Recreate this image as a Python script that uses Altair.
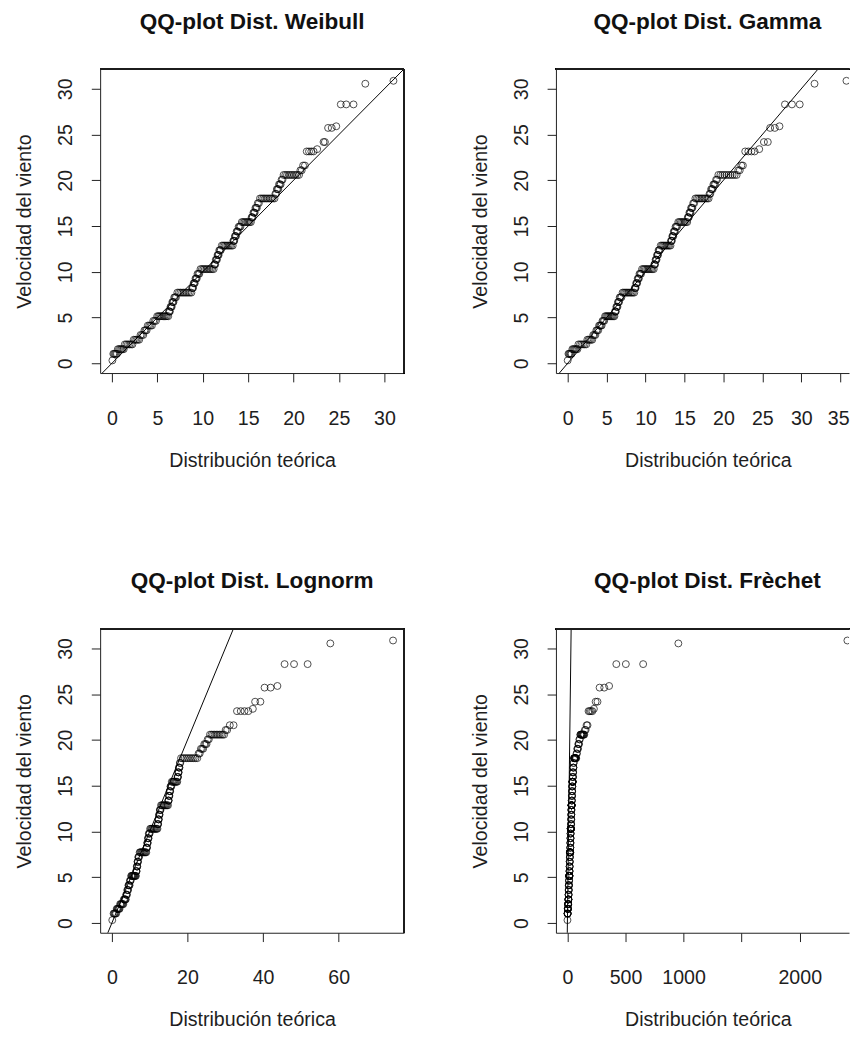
import altair as alt
import pandas as pd

# Observed wind speeds (sorted sample, m/s)
y_obs = [
    0.31,
    1.03, 1.03, 1.03, 1.03, 1.03,
    1.54, 1.54, 1.54, 1.54, 1.54, 1.54,
    2.06, 2.06, 2.06, 2.06, 2.06, 2.06,
    2.57, 2.57, 2.57, 2.57, 2.57,
    3.09, 3.09, 3.09,
    3.60, 3.60, 3.60,
    4.12, 4.12, 4.12, 4.12,
    4.63, 4.63, 4.63,
    5.14, 5.14, 5.14, 5.14, 5.14, 5.14, 5.14, 5.14, 5.14, 5.14,
    5.66, 5.66, 5.66, 6.17, 6.17, 6.17, 6.69, 6.69, 6.69, 7.20, 7.20, 7.20,
    7.72, 7.72, 7.72, 7.72, 7.72, 7.72, 7.72, 7.72, 7.72, 7.72,
    8.23, 8.23, 8.23, 8.75, 8.75, 8.75, 9.26, 9.26, 9.26, 9.77, 9.77, 9.77,
    10.29, 10.29, 10.29, 10.29, 10.29, 10.29, 10.29, 10.29, 10.29, 10.29,
    10.80, 10.80, 10.80, 11.32, 11.32, 11.32, 11.83, 11.83, 11.83, 12.35, 12.35, 12.35,
    12.86, 12.86, 12.86, 12.86, 12.86, 12.86, 12.86, 12.86, 12.86,
    13.38, 13.38, 13.38, 13.89, 13.89, 13.89, 14.40, 14.40, 14.40, 14.92, 14.92, 14.92,
    15.43, 15.43, 15.43, 15.43, 15.43, 15.43, 15.43, 15.43,
    15.95, 15.95, 15.95, 16.46, 16.46, 16.46, 16.98, 16.98, 16.98, 17.49, 17.49,
    18.01, 18.01, 18.01, 18.01, 18.01, 18.01, 18.01, 18.01, 18.01, 18.01,
    18.52, 18.52, 19.03, 19.03, 19.03, 19.55, 19.55, 19.55, 20.06, 20.06,
    20.58, 20.58, 20.58, 20.58, 20.58, 20.58, 20.58, 20.58, 20.58, 20.58,
    21.09, 21.09, 21.61, 21.61,
    23.15, 23.15, 23.15, 23.15, 23.40,
    24.18, 24.18,
    25.72, 25.72, 25.90,
    28.29, 28.29, 28.29,
    30.55, 30.87,
]

# Theoretical quantiles
x_weibull = [
    0.05,
    0.15, 0.25, 0.35, 0.45, 0.55,
    0.65, 0.78, 0.91, 1.04, 1.17, 1.3,
    1.42, 1.59, 1.76, 1.93, 2.1, 2.25,
    2.4, 2.55, 2.7, 2.85, 3.0,
    3.15, 3.3, 3.45,
    3.58, 3.7, 3.82,
    3.95, 4.1, 4.25, 4.4,
    4.55, 4.7, 4.85,
    4.98, 5.12, 5.25, 5.39, 5.52, 5.66, 5.79, 5.93, 6.06, 6.2,
    6.28, 6.33, 6.38, 6.45, 6.52, 6.58, 6.65, 6.72, 6.78, 6.86, 6.95, 7.05,
    7.2, 7.37, 7.54, 7.72, 7.89, 8.06, 8.23, 8.4, 8.58, 8.75,
    8.83, 8.88, 8.93, 9.0, 9.06, 9.12, 9.2, 9.27, 9.34, 9.42, 9.52, 9.62,
    9.75, 9.91, 10.07, 10.23, 10.39, 10.56, 10.72, 10.88, 11.04, 11.2,
    11.27, 11.32, 11.37, 11.44, 11.5, 11.56, 11.63, 11.69, 11.75, 11.82, 11.9, 11.98,
    12.1, 12.25, 12.4, 12.55, 12.7, 12.85, 13.0, 13.15, 13.3,
    13.37, 13.42, 13.47, 13.54, 13.6, 13.66, 13.73, 13.8, 13.87, 13.95, 14.05, 14.15,
    14.3, 14.44, 14.59, 14.73, 14.87, 15.01, 15.16, 15.3,
    15.38, 15.44, 15.5, 15.58, 15.65, 15.72, 15.8, 15.88, 15.96, 16.06, 16.18,
    16.3, 16.48, 16.66, 16.83, 17.01, 17.19, 17.37, 17.54, 17.72, 17.9,
    18.0, 18.08, 18.16, 18.24, 18.32, 18.4, 18.49, 18.58, 18.68, 18.78,
    18.9, 19.09, 19.28, 19.47, 19.66, 19.84, 20.03, 20.22, 20.41, 20.6,
    20.75, 20.9, 21.05, 21.25,
    21.45, 21.7, 21.95, 22.2, 22.6,
    23.3, 23.45,
    23.8, 24.2, 24.7,
    25.2, 25.8, 26.6,
    27.9, 31.0,
]

x_gamma = [
    0.0,
    0.1, 0.2, 0.3, 0.4, 0.5,
    0.6, 0.73, 0.86, 0.99, 1.12, 1.25,
    1.38, 1.58, 1.78, 1.98, 2.18, 2.38,
    2.52, 2.68, 2.84, 3.0, 3.15,
    3.28, 3.42, 3.56,
    3.68, 3.8, 3.92,
    4.03, 4.14, 4.25, 4.36,
    4.47, 4.58, 4.69,
    4.8, 4.93, 5.07, 5.2, 5.33, 5.47, 5.6, 5.73, 5.87, 6.0,
    6.08, 6.13, 6.18, 6.25, 6.32, 6.39, 6.46, 6.53, 6.6, 6.68, 6.78, 6.9,
    7.05, 7.22, 7.38, 7.55, 7.72, 7.88, 8.05, 8.22, 8.38, 8.55,
    8.62, 8.67, 8.72, 8.8, 8.86, 8.92, 9.0, 9.07, 9.14, 9.22, 9.32, 9.42,
    9.55, 9.72, 9.88, 10.05, 10.22, 10.38, 10.55, 10.72, 10.88, 11.05,
    11.12, 11.17, 11.22, 11.29, 11.35, 11.41, 11.48, 11.54, 11.6, 11.67, 11.75, 11.83,
    11.95, 12.11, 12.26, 12.42, 12.58, 12.73, 12.89, 13.04, 13.2,
    13.27, 13.32, 13.37, 13.44, 13.5, 13.56, 13.63, 13.7, 13.77, 13.85, 13.95, 14.05,
    14.2, 14.36, 14.53, 14.69, 14.86, 15.02, 15.19, 15.35,
    15.43, 15.49, 15.55, 15.63, 15.7, 15.77, 15.85, 15.93, 16.01, 16.12, 16.24,
    16.4, 16.59, 16.78, 16.97, 17.16, 17.34, 17.53, 17.72, 17.91, 18.1,
    18.22, 18.32, 18.42, 18.52, 18.62, 18.72, 18.83, 18.94, 19.06, 19.18,
    19.35, 19.61, 19.87, 20.13, 20.39, 20.66, 20.92, 21.18, 21.44, 21.7,
    21.9, 22.1, 22.3, 22.5,
    22.8, 23.2, 23.6, 24.0, 24.6,
    25.2, 25.7,
    26.0, 26.6, 27.2,
    27.9, 28.8, 29.8,
    31.7, 35.8,
]

x_lognorm = [
    0.1,
    0.45, 0.62, 0.79, 0.96, 1.13,
    1.28, 1.43, 1.58, 1.73, 1.88, 2.03,
    2.18, 2.35, 2.52, 2.69, 2.86, 3.03,
    3.16, 3.29, 3.42, 3.55, 3.68,
    3.78, 3.88, 3.98,
    4.08, 4.18, 4.28,
    4.38, 4.48, 4.58, 4.68,
    4.78, 4.88, 4.98,
    5.1, 5.24, 5.38, 5.52, 5.66, 5.79, 5.93, 6.07, 6.21, 6.35,
    6.43, 6.48, 6.53, 6.6, 6.66, 6.72, 6.79, 6.85, 6.91, 6.99, 7.08, 7.18,
    7.35, 7.54, 7.74, 7.93, 8.13, 8.32, 8.52, 8.71, 8.91, 9.1,
    9.18, 9.23, 9.28, 9.36, 9.42, 9.48, 9.56, 9.63, 9.7, 9.78, 9.88, 9.98,
    10.12, 10.33, 10.55, 10.76, 10.98, 11.19, 11.41, 11.62, 11.84, 12.05,
    12.13, 12.18, 12.23, 12.3, 12.36, 12.42, 12.49, 12.55, 12.61, 12.68, 12.77, 12.86,
    13.0, 13.23, 13.46, 13.69, 13.93, 14.16, 14.39, 14.62, 14.85,
    14.93, 14.98, 15.03, 15.1, 15.16, 15.22, 15.29, 15.36, 15.43, 15.51, 15.61, 15.71,
    15.85, 16.06, 16.26, 16.47, 16.68, 16.88, 17.09, 17.3,
    17.38, 17.43, 17.48, 17.55, 17.61, 17.67, 17.74, 17.81, 17.88, 17.98, 18.1,
    18.3, 18.78, 19.26, 19.73, 20.21, 20.69, 21.17, 21.64, 22.12, 22.6,
    22.95, 23.25, 23.55, 23.85, 24.15, 24.45, 24.75, 25.05, 25.35, 25.65,
    25.95, 26.37, 26.78, 27.2, 27.62, 28.03, 28.45, 28.87, 29.28, 29.7,
    30.1, 30.5, 31.2, 32.2,
    33.1, 34.1, 35.1, 36.1, 37.3,
    37.9, 39.3,
    40.4, 42.0, 43.8,
    45.7, 48.2, 51.8,
    57.8, 74.4,
]

x_frechet = [
    0.5,
    1, 1.4, 1.8, 2.2, 2.6,
    3, 3.4, 3.8, 4.2, 4.6, 5,
    5.4, 5.8, 6.2, 6.6, 7, 7.4,
    7.8, 8.2, 8.6, 9, 9.4,
    9.8, 10.2, 10.6,
    11, 11.4, 11.8,
    12.2, 12.6, 13, 13.4,
    13.8, 14.2, 14.6,
    15, 15.3, 15.6, 15.9, 16.2, 16.5, 16.8, 17.1, 17.4, 17.7,
    18, 18.3, 18.6, 18.9, 19.2, 19.5, 19.8, 20.1, 20.4, 20.7, 21, 21.3,
    21.6, 21.9, 22.2, 22.5, 22.8, 23.1, 23.4, 23.7, 24, 24.3,
    24.6, 24.9, 25.2, 25.5, 25.8, 26.1, 26.4, 26.7, 27, 27.3, 27.6, 27.9,
    28.2, 28.5, 28.8, 29.1, 29.4, 29.7, 30, 30.3, 30.6, 30.9,
    31.2, 31.5, 31.8, 32.1, 32.4, 32.7, 33, 33.3, 33.6, 33.9, 34.2, 34.5,
    34.8, 35.1, 35.4, 35.7, 36, 36.3, 36.6, 36.9, 37.2,
    37.6, 38, 38.4, 38.8, 39.2, 39.6, 40, 40.4, 40.8, 41.2, 41.6, 42,
    42.5, 43, 43.5, 44, 44.5, 45, 45.5, 46,
    46.5, 47, 47.5, 48, 48.5, 49, 50, 51, 52, 53, 54,
    56, 58, 60, 62, 64, 66, 68, 70, 73, 76,
    79, 82, 85, 88, 91, 94, 97, 100, 103, 107,
    111, 114, 118, 121, 125, 129, 133, 137, 141, 145,
    150, 157, 165, 173,
    182, 192, 203, 215, 228,
    243, 259,
    277, 317, 359,
    421, 503, 652,
    955, 2410,
]

titles = ["QQ-plot Dist. Weibull", "QQ-plot Dist. Gamma",
          "QQ-plot Dist. Lognorm", "QQ-plot Dist. Frèchet"]
y_ticks = [0, 5, 10, 15, 20, 25, 30]
ticks_weibull = [0, 5, 10, 15, 20, 25, 30]
ticks_gamma = [0, 5, 10, 15, 20, 25, 30, 35]
ticks_lognorm = [0, 20, 40, 60]
ticks_frechet = [0, 500, 1000, 1500, 2000]
ref_line = [-10, 40]   # y = x reference line

for arr in (x_weibull, x_gamma, x_lognorm, x_frechet):
    assert len(arr) == len(y_obs), len(arr)

FONT = "Liberation Sans"
INK = "#1e1e1e"
H = 310
Y_DOMAIN = [-1.07, 32.14]


def panel(title, xs, xdomain, xticks, width, full_box, title_dx=0,
          label_align=None, label_offset=None, label_expr=None):
    pts = pd.DataFrame({"teo": xs, "obs": y_obs})
    line = pd.DataFrame({"teo": ref_line, "obs": ref_line})

    ax_kw = dict(
        values=xticks, format="d", title="Distribución teórica",
        titleFont=FONT, titleFontSize=20, titleFontWeight="normal", titleColor=INK,
        titleX=155, titleY=95, titleBaseline="alphabetic", titleAlign="center",
        labelFont=FONT, labelFontSize=20, labelColor=INK, labelBaseline="alphabetic",
        labelPadding=43, labelFlush=False, labelOverlap=False,
        tickSize=9, tickColor=INK, tickWidth=1, domainColor=INK, domainWidth=1, grid=False,
    )
    if label_align is not None:
        ax_kw["labelAlign"] = label_align
    if label_offset is not None:
        ax_kw["labelOffset"] = label_offset
    if label_expr is not None:
        ax_kw["labelExpr"] = label_expr

    x = alt.X("teo:Q", scale=alt.Scale(domain=xdomain, nice=False, zero=False),
              axis=alt.Axis(**ax_kw))
    y = alt.Y("obs:Q", scale=alt.Scale(domain=Y_DOMAIN, nice=False, zero=False),
              axis=alt.Axis(
                  values=y_ticks, title="Velocidad del viento",
                  titleFont=FONT, titleFontSize=20, titleFontWeight="normal", titleColor=INK,
                  titleX=-71, titleY=155, titleAngle=270, titleBaseline="alphabetic",
                  titleAlign="center",
                  labelFont=FONT, labelFontSize=20, labelColor=INK, labelAngle=270,
                  labelAlign="center", labelBaseline="alphabetic", labelPadding=20,
                  labelOverlap=False,
                  tickSize=9, tickColor=INK, tickWidth=1, domainColor=INK, domainWidth=1,
                  grid=False))

    points = alt.Chart(pts).mark_point(
        shape="circle", filled=False, size=50, stroke="#000", strokeWidth=1, clip=True
    ).encode(x=x, y=y)
    refl = alt.Chart(line).mark_line(color="#000", strokeWidth=1, clip=True).encode(x=x, y=y)

    top = alt.Chart(pts).mark_rule(color=INK, strokeWidth=1).encode(
        x=alt.value(0), x2=alt.value(width), y=alt.value(0))
    layers = [refl, points, top]
    if full_box:
        right = alt.Chart(pts).mark_rule(color=INK, strokeWidth=1).encode(
            x=alt.value(width), y=alt.value(0), y2=alt.value(H))
        layers.append(right)

    return alt.layer(*layers).properties(
        width=width, height=H,
        title=alt.TitleParams(text=title, font=FONT, fontSize=23, fontWeight="bold",
                              color="#111", anchor="middle", frame="group",
                              baseline="alphabetic", offset=18, dx=title_dx),
    )


p1 = panel(titles[0], x_weibull, [-1.3, 32.16], ticks_weibull, 310, True)
p2 = panel(titles[1], x_gamma, [-1.51, 36.13], ticks_gamma, 299, False, title_dx=5,
           label_align={"condition": {"test": "datum.value == 35", "value": "right"},
                        "value": "center"},
           label_offset={"condition": {"test": "datum.value == 35", "value": 9},
                         "value": 0})
p3 = panel(titles[2], x_lognorm, [-3.11, 77.3], ticks_lognorm, 310, True)
p4 = panel(titles[3], x_frechet, [-98.7, 2424], ticks_frechet, 299, False, title_dx=5,
           label_expr="datum.value == 1500 ? '' : datum.label")

row1 = alt.hconcat(p1, p2, spacing=67)
row2 = alt.hconcat(p3, p4, spacing=67)
chart = alt.vconcat(row1, row2, spacing=102).properties(
    padding={"left": 7, "top": -8, "right": 0, "bottom": 0},
    background="white",
).configure_view(stroke=None)

chart.save("out.html", embed_options={"renderer": "svg", "actions": False})
